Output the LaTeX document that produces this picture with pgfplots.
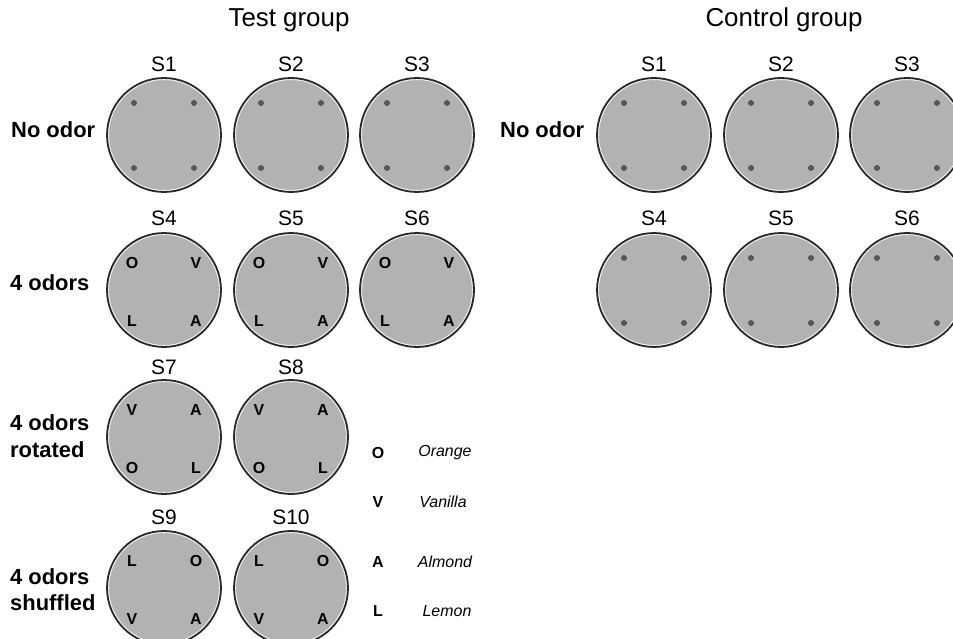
\documentclass[border=0pt]{standalone}
\usepackage{fontspec}
\setmainfont{Liberation Sans}
\usepackage{pgfplots}
\pgfplotsset{compat=1.18}
\definecolor{plate}{RGB}{178,178,178}
\definecolor{rim}{RGB}{40,40,40}
\definecolor{dotc}{RGB}{90,90,90}
\begin{document}
\begin{tikzpicture}
\begin{axis}[x=1bp,y=1bp,xmin=0,xmax=953,ymin=0,ymax=639,y dir=reverse,
  hide axis, clip=true, clip marker paths=true, scale only axis,
  txt/.style={only marks, mark=none, nodes near coords, point meta=explicit symbolic,
    nodes near coords style={anchor=center, inner sep=0pt, text=black}}]
% invisible frame
\addplot[draw=none, mark=none] coordinates {(0,0) (953,639)};
% plates
\addplot[only marks, mark=*, mark size=57.2pt, mark options={fill=plate, draw=rim, line width=1.8bp}] coordinates {
(164,135) (291,135) (417,135)
(164,290) (291,290) (417,290)
(164,437) (291,437)
(164,588) (291,588)
(654,135) (781,135) (907,135)
(654,290) (781,290) (907,290)
};
% thin light inner ring
\addplot[only marks, mark=o, mark size=55.6pt, mark options={draw=white!85!plate, line width=0.8bp}] coordinates {
(164,135) (291,135) (417,135)
(164,290) (291,290) (417,290)
(164,437) (291,437)
(164,588) (291,588)
(654,135) (781,135) (907,135)
(654,290) (781,290) (907,290)
};
% small holes (no odor)
\addplot[only marks, mark=*, mark size=2.6pt, mark options={fill=dotc, draw=dotc!60!black, line width=0.4pt}] coordinates {
(134,103) (194,103) (134,168) (194,168)
(261,103) (321,103) (261,168) (321,168)
(387,103) (447,103) (387,168) (447,168)
(624,103) (684,103) (624,168) (684,168)
(751,103) (811,103) (751,168) (811,168)
(877,103) (937,103) (877,168) (937,168)
(624,258) (684,258) (624,323) (684,323)
(751,258) (811,258) (751,323) (811,323)
(877,258) (937,258) (877,323) (937,323)
};
% odor letters in plates and legend
\addplot[txt, nodes near coords style={font=\fontsize{16}{16}\selectfont\bfseries}] coordinates {
(132,263) [O] (196,263) [V] (132,321) [L] (196,321) [A]
(259,263) [O] (323,263) [V] (259,321) [L] (323,321) [A]
(385,263) [O] (449,263) [V] (385,321) [L] (449,321) [A]
(132,410) [V] (196,410) [A] (132,468) [O] (196,468) [L]
(259,410) [V] (323,410) [A] (259,468) [O] (323,468) [L]
(132,561) [L] (196,561) [O] (132,619) [V] (196,619) [A]
(259,561) [L] (323,561) [O] (259,619) [V] (323,619) [A]
(378,453) [O] (378,502) [V] (378,562) [A] (378,611) [L]
};
% legend words
\addplot[txt, nodes near coords style={font=\fontsize{16}{16}\selectfont\itshape}] coordinates {
(445,453) [Orange] (443,502) [Vanilla] (445,562) [Almond] (447,611) [Lemon]
};
% session labels
\addplot[txt, nodes near coords style={font=\fontsize{21}{21}\selectfont}] coordinates {
(164,64) [S1] (291,64) [S2] (417,64) [S3]
(164,218) [S4] (291,218) [S5] (417,218) [S6]
(164,367) [S7] (291,367) [S8]
(164,517) [S9] (291,517) [S10]
(654,64) [S1] (781,64) [S2] (907,64) [S3]
(654,218) [S4] (781,218) [S5] (907,218) [S6]
};
% group titles
\addplot[txt, nodes near coords style={font=\fontsize{26}{26}\selectfont}] coordinates {
(289,20) [Test group] (784,20) [Control group]
};
% row labels
\addplot[txt, nodes near coords style={anchor=west, font=\fontsize{22}{22}\selectfont\bfseries}] coordinates {
(11,130) [No odor] (10,283) [4 odors]
(10,423) [4 odors] (10,450) [rotated]
(10,577) [4 odors] (10,603) [shuffled]
(500,130) [No odor]
};
\end{axis}
\end{tikzpicture}
\end{document}
